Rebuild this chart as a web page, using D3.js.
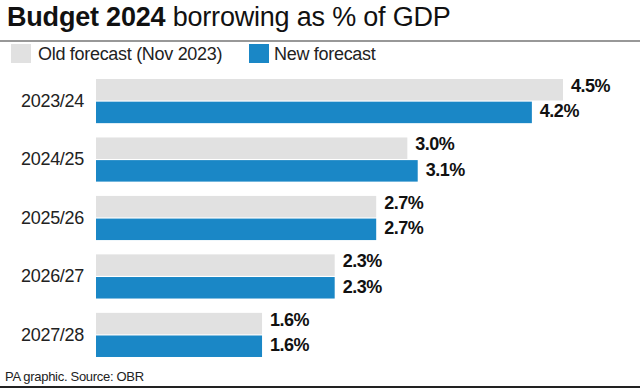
<!DOCTYPE html>
<html><head><meta charset="utf-8">
<script src="https://cdn.jsdelivr.net/npm/d3@7"></script>
<style>
body{margin:0;background:#fff;}
svg{display:block;font-family:"Liberation Sans",Arial,sans-serif;}
</style></head>
<body><svg id="c" width="640" height="390"></svg>
<script>
const categories = ["2023/24","2024/25","2025/26","2026/27","2027/28"];
const seriesNames = ["Old forecast (Nov 2023)","New forecast"];
const oldForecast = [4.5,3.0,2.7,2.3,1.6];
const newForecast = [4.2,3.1,2.7,2.3,1.6];
const colors = ["#e1e1e1","#1a87c6"];

const svg = d3.select("#c");
// Title
const t = svg.append("text").attr("x",7).attr("y",26).attr("font-size",27).attr("fill","#111").attr("letter-spacing",-0.2);
t.append("tspan").attr("font-weight","bold").text("Budget 2024");
t.append("tspan").text(" borrowing as % of GDP");
svg.append("line").attr("x1",0).attr("x2",640).attr("y1",41).attr("y2",41).attr("stroke","#333").attr("stroke-width",1.2);

// Legend
const legX = [11,249];
seriesNames.forEach((s,i)=>{
  svg.append("rect").attr("x",legX[i]).attr("y",44).attr("width",20).attr("height",19).attr("fill",colors[i]);
  svg.append("text").attr("x",legX[i]+(i===0?27:25)).attr("y",60).attr("font-size",18).attr("fill","#222").attr("letter-spacing",-0.3).text(s);
});

const y = d3.scaleBand().domain(categories).range([72,364]).paddingInner(0.245).paddingOuter(0.12);
const ys = d3.scaleBand().domain([0,1]).range([0,y.bandwidth()]).paddingInner(0.05);
const x = d3.scaleLinear().domain([0,4.5]).range([96,563]);

const data = categories.map((c,i)=>({cat:c, vals:[oldForecast[i],newForecast[i]]}));
const g = svg.append("g").selectAll("g").data(data).join("g").attr("transform",d=>`translate(0,${y(d.cat)})`);
g.selectAll("rect").data(d=>d.vals.map((v,i)=>({v,i}))).join("rect")
  .attr("x",x(0)).attr("y",d=>ys(d.i)).attr("width",d=>x(d.v)-x(0)).attr("height",ys.bandwidth())
  .attr("fill",d=>colors[d.i]);
g.selectAll("text.v").data(d=>d.vals.map((v,i)=>({v,i}))).join("text").attr("class","v")
  .attr("x",d=>x(d.v)+8).attr("y",d=>ys(d.i)+ys.bandwidth()/2+(d.i===0?2:5))
  .attr("font-size",18).attr("font-weight","bold").attr("fill","#111").attr("letter-spacing",-0.5)
  .text(d=>d.v.toFixed(1)+"%");

// Category axis
const ax = svg.append("g").attr("transform",`translate(${x(0)},0)`).call(d3.axisLeft(y).tickSize(0).tickPadding(12));
ax.select(".domain").remove();
ax.selectAll("text").attr("font-size",18).attr("fill","#222").attr("letter-spacing",-0.3).attr("font-family","'Liberation Sans',Arial,sans-serif");

// Footer
svg.append("text").attr("x",5).attr("y",381).attr("font-size",13).attr("fill","#222").attr("letter-spacing",-0.3).text("PA graphic. Source: OBR");
svg.append("line").attr("x1",0).attr("x2",640).attr("y1",387).attr("y2",387).attr("stroke","#222").attr("stroke-width",2);
</script></body></html>
